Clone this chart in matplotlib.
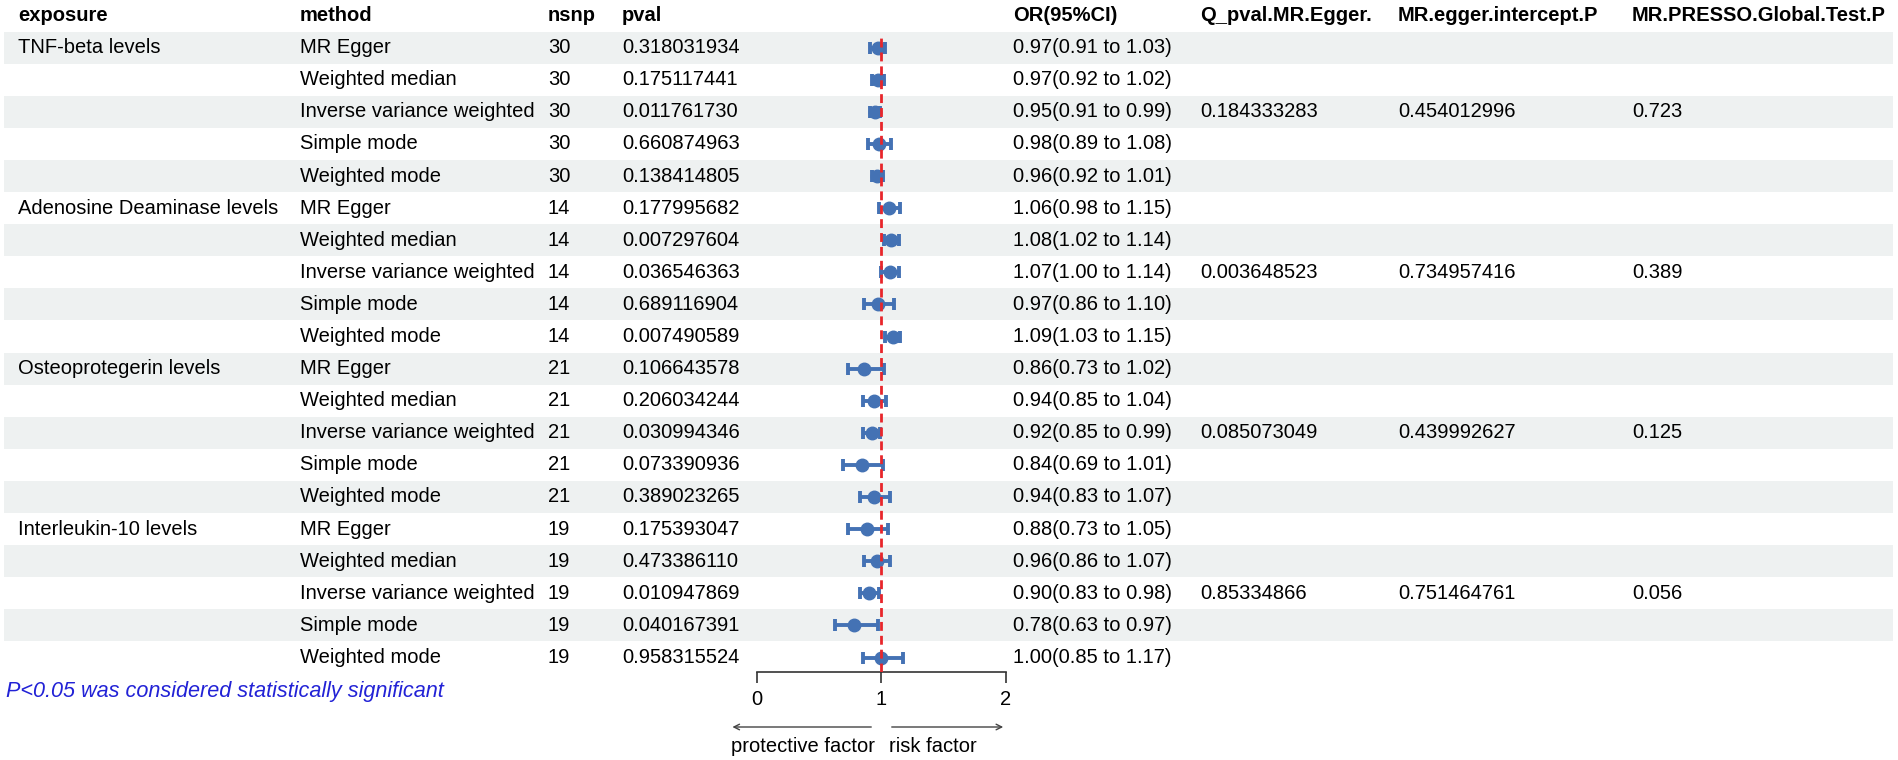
import numpy as np
import matplotlib
matplotlib.use('Agg')
import matplotlib.pyplot as plt

plt.rcParams['font.family'] = ['Liberation Sans', 'DejaVu Sans']

exposures = ['TNF-beta levels', 'Adenosine Deaminase levels',
             'Osteoprotegerin levels', 'Interleukin-10 levels']
methods = ['MR Egger', 'Weighted median', 'Inverse variance weighted',
           'Simple mode', 'Weighted mode']
nsnp = [30, 14, 21, 19]
pvals = ['0.318031934', '0.175117441', '0.011761730', '0.660874963', '0.138414805',
         '0.177995682', '0.007297604', '0.036546363', '0.689116904', '0.007490589',
         '0.106643578', '0.206034244', '0.030994346', '0.073390936', '0.389023265',
         '0.175393047', '0.473386110', '0.010947869', '0.040167391', '0.958315524']
or_est = [0.97, 0.97, 0.95, 0.98, 0.96,
          1.06, 1.08, 1.07, 0.97, 1.09,
          0.86, 0.94, 0.92, 0.84, 0.94,
          0.88, 0.96, 0.90, 0.78, 1.00]
or_lo = [0.91, 0.92, 0.91, 0.89, 0.92,
         0.98, 1.02, 1.00, 0.86, 1.03,
         0.73, 0.85, 0.85, 0.69, 0.83,
         0.73, 0.86, 0.83, 0.63, 0.85]
or_hi = [1.03, 1.02, 0.99, 1.08, 1.01,
         1.15, 1.14, 1.14, 1.10, 1.15,
         1.02, 1.04, 0.99, 1.01, 1.07,
         1.05, 1.07, 0.98, 0.97, 1.17]
q_pval = ['0.184333283', '0.003648523', '0.085073049', '0.85334866']
egger_int = ['0.454012996', '0.734957416', '0.439992627', '0.751464761']
presso = ['0.723', '0.389', '0.125', '0.056']

headers = ['exposure', 'method', 'nsnp', 'pval', 'OR(95%CI)',
           'Q_pval.MR.Egger.', 'MR.egger.intercept.P', 'MR.PRESSO.Global.Test.P']

W, H = 1899, 760
fs = 14.5
blue = '#4472B4'
red = '#E8262B'
shade = '#EEF1F1'

# pixel layout: row r sits at y = y0 + dy*r
y0, dy = 15.5, 32.1
col_x = [18, 300, 548, 622, None, 1013, 1200, 1398, 1632]
fx0, fx2 = 757, 1006          # pixel position of 0 and 2 on the OR axis
axis_y = 672

fig = plt.figure(figsize=(W / 100, H / 100), dpi=100)
ax = fig.add_axes([0, 0, 1, 1])
ax.set_xlim(0, W)
ax.set_ylim((H - y0) / dy, -y0 / dy)
ax.axis('off')

n = len(or_est)
rows = np.arange(1, n + 1)

# zebra shading
for r in rows[::2]:
    ax.axhspan(r - 0.5, r + 0.5, xmin=4 / W, xmax=1893 / W, color=shade, lw=0, zorder=0)

# header
hx = [col_x[0], col_x[1], col_x[2], col_x[3]] + col_x[5:]
for x, h in zip(hx, headers):
    ax.text(x, 0, h, fontsize=fs, fontweight='bold', va='center', ha='left')

# table body
for i in range(n):
    g, m = divmod(i, 5)
    r = rows[i]
    if m == 0:
        ax.text(col_x[0], r, exposures[g], fontsize=fs, va='center')
    ax.text(col_x[1], r, methods[m], fontsize=fs, va='center')
    ax.text(col_x[2], r, str(nsnp[g]), fontsize=fs, va='center')
    ax.text(col_x[3], r, pvals[i], fontsize=fs, va='center')
    ax.text(col_x[5], r, '%.2f(%.2f to %.2f)' % (or_est[i], or_lo[i], or_hi[i]),
            fontsize=fs, va='center')
    if m == 2:
        ax.text(col_x[6], r, q_pval[g], fontsize=fs, va='center')
        ax.text(col_x[7], r, egger_int[g], fontsize=fs, va='center')
        ax.text(col_x[8], r, presso[g], fontsize=fs, va='center')

ax.text(6, (692 - y0) / dy, 'P<0.05 was considered statistically significant',
        fontsize=15.6, style='italic', color='#2222D6', va='center')

# forest panel
top_r, bot_r = 0.5, (axis_y - y0) / dy
fax = fig.add_axes([fx0 / W, (H - axis_y) / H, (fx2 - fx0) / W,
                    (axis_y - (y0 + dy * top_r)) / H])
fax.patch.set_visible(False)
fax.set_xlim(0, 2)
fax.set_ylim(bot_r, top_r)
for s in ['top', 'left', 'right']:
    fax.spines[s].set_visible(False)
fax.spines['bottom'].set_color('#333333')
fax.spines['bottom'].set_linewidth(1.2)
fax.set_yticks([])
fax.set_xticks([0, 1, 2])
fax.set_xticklabels(['0', '1', '2'])
fax.tick_params(axis='x', direction='out', length=8, width=1.2, color='#333333',
                labelsize=fs, pad=5)

est = np.array(or_est)
fax.errorbar(est, rows, xerr=[est - np.array(or_lo), np.array(or_hi) - est],
             fmt='o', color=blue, ms=9, elinewidth=2.8, capsize=4.2, capthick=2.8,
             clip_on=False, zorder=3)
fax.axvline(1, ymin=0, ymax=(bot_r - 0.6) / (bot_r - top_r), color=red, lw=2,
            dashes=(3.2, 1.8), zorder=4)

# direction arrows
arr_r = (727 - y0) / dy
txt_r = (746 - y0) / dy
fax.annotate('', xy=(-0.22, arr_r), xytext=(0.94, arr_r), annotation_clip=False,
             arrowprops=dict(arrowstyle='->', color='#444444', lw=1))
fax.annotate('', xy=(2.0, arr_r), xytext=(1.06, arr_r), annotation_clip=False,
             arrowprops=dict(arrowstyle='->', color='#444444', lw=1))
fax.text(0.95, txt_r, 'protective factor', fontsize=fs, ha='right', va='center', clip_on=False)
fax.text(1.06, txt_r, 'risk factor', fontsize=fs, ha='left', va='center', clip_on=False)

plt.savefig('out.png', dpi=100)
